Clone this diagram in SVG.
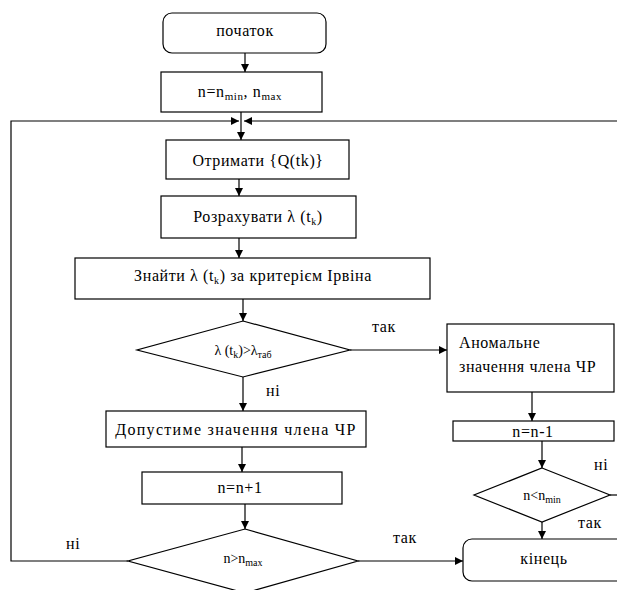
<svg xmlns="http://www.w3.org/2000/svg" width="617" height="590" viewBox="0 0 617 590" font-family="'Liberation Serif','Times New Roman','DejaVu Serif',serif">
<style>
.b{fill:#fff;stroke:#000;stroke-width:1.2}
.c{fill:none;stroke:#000;stroke-width:1.2}
text{font-family:'Liberation Serif','Times New Roman','DejaVu Serif',serif;font-size:16px;fill:#000;letter-spacing:0.6px}
.m{text-anchor:middle}
.s{font-size:14px;letter-spacing:0}
</style>
<defs>
<marker id="a" viewBox="0 0 8 8" refX="8" refY="4" markerWidth="8" markerHeight="8" markerUnits="userSpaceOnUse" orient="auto">
<path d="M0,0 L8,4 L0,8 z" fill="#000"/>
</marker>
</defs>
<rect width="617" height="590" fill="#fff"/>
<g id="connectors" class="c" marker-end="url(#a)">
<path d="M245,53 V72"/>
<path d="M241,112 V140"/>
<path d="M128,561 H11 V121 H239"/>
<path d="M617,121 H244"/>
<path d="M239,179 V196"/>
<path d="M239,238 V258"/>
<path d="M243,299 V321"/>
<path d="M243,377 V411"/>
<path d="M350,350 H447"/>
<path d="M532,392 V421"/>
<path d="M542,441 V468"/>
<path d="M542,522 V539"/>
<path d="M242,447 V472"/>
<path d="M245,504 V529"/>
<path d="M358,561 H463"/>
<path d="M610,495 H617" marker-end="none"/>
</g>
<g id="start"><rect class="b" x="163" y="13" width="163" height="40" rx="9"/><text class="m" x="245" y="36">початок</text></g>
<g id="init"><rect class="b" x="161" y="72" width="161" height="40"/><text class="m" x="240" y="97">n=n<tspan font-size="11" dy="3">min</tspan><tspan dy="-3">, n</tspan><tspan font-size="11" dy="3">max</tspan></text></g>
<g id="get"><rect class="b" x="166" y="140" width="183" height="39"/><text class="m" x="258" y="166">Отримати {Q(tk)}</text></g>
<g id="calc"><rect class="b" x="161" y="196" width="195" height="42"/><text class="m" x="258" y="222">Розрахувати λ (t<tspan font-size="10" dy="3">k</tspan><tspan dy="-3">)</tspan></text></g>
<g id="find"><rect class="b" x="75" y="258" width="355" height="41"/><text class="m" x="253" y="281">Знайти λ (t<tspan font-size="10" dy="3">k</tspan><tspan dy="-3">) за критерієм Ірвіна</tspan></text></g>
<g id="check1"><polygon class="b" points="243,321 350,350 243,377 137,350"/><text class="m s" x="243" y="355">λ (t<tspan font-size="10" dy="3">k</tspan><tspan dy="-3">)&gt;λ</tspan><tspan font-size="10" dy="3">таб</tspan></text>
<text x="372" y="332">так</text><text x="266" y="396">ні</text></g>
<g id="anomal"><rect class="b" x="447" y="324" width="167" height="68"/><text x="459" y="348">Аномальне</text><text x="459" y="372">значення члена ЧР</text></g>
<g id="valid"><rect class="b" x="106" y="411" width="260" height="36"/><text class="m" x="236" y="435" style="letter-spacing:1.3px">Допустиме значення члена ЧР</text></g>
<g id="dec"><rect class="b" x="453" y="421" width="161" height="20"/><text class="m" x="533" y="437">n=n-1</text></g>
<g id="check2"><polygon class="b" points="542,468 610,495 542,522 474,495"/><text class="m s" x="542" y="500">n&lt;n<tspan font-size="10" dy="3">min</tspan></text>
<text x="594" y="470">ні</text><text x="578" y="528">так</text></g>
<g id="inc"><rect class="b" x="142" y="472" width="200" height="32"/><text class="m" x="240" y="493">n=n+1</text></g>
<g id="check3"><polygon class="b" points="245,529 358,561 245,593 128,561"/><text class="m s" x="243" y="563">n&gt;n<tspan font-size="10" dy="3">max</tspan></text>
<text x="66" y="549">ні</text><text x="393" y="543">так</text></g>
<g id="end"><rect class="b" x="463" y="539" width="165" height="42" rx="9"/><text class="m" x="544" y="564">кінець</text></g>
</svg>
